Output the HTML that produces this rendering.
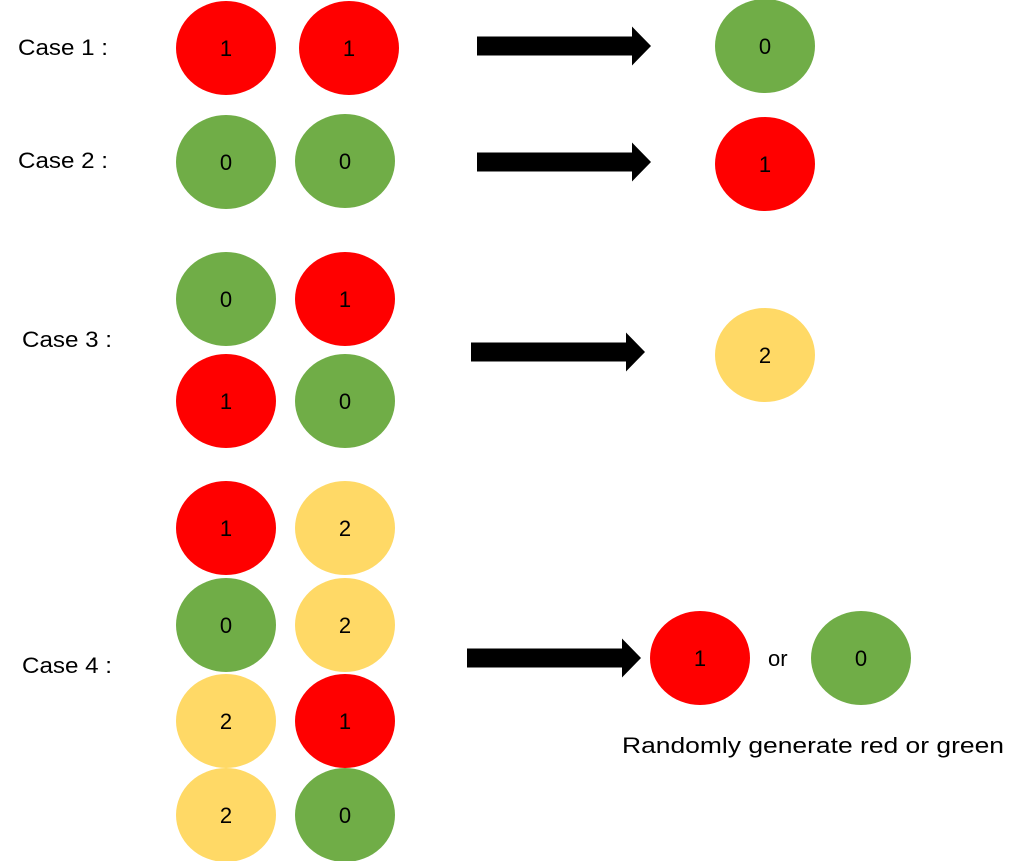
<!DOCTYPE html><html><head><style>body{margin:0;background:#fff}</style></head><body>
<svg width="1024" height="861" xmlns="http://www.w3.org/2000/svg" font-family="Liberation Sans, sans-serif">
<defs>
<g id="a"><polygon points="0,-9.5 155,-9.5 155,-19.5 174,0 155,19.5 155,9.5 0,9.5" fill="#000"/></g>
</defs>
<g font-size="22" fill="#000">
<text x="18" y="55" textLength="90" lengthAdjust="spacingAndGlyphs">Case 1 :</text>
<text x="18" y="168" textLength="90" lengthAdjust="spacingAndGlyphs">Case 2 :</text>
<text x="22" y="347" textLength="90" lengthAdjust="spacingAndGlyphs">Case 3 :</text>
<text x="22" y="673" textLength="90" lengthAdjust="spacingAndGlyphs">Case 4 :</text>
<text x="622" y="753" textLength="382" lengthAdjust="spacingAndGlyphs">Randomly generate red or green</text>
<text x="768" y="666">or</text>
</g>
<use href="#a" x="477" y="46"/>
<use href="#a" x="477" y="162"/>
<use href="#a" x="471" y="352"/>
<use href="#a" x="467" y="658"/>
<g font-size="22" text-anchor="middle">
<g fill="#FF0000"><ellipse cx="226" cy="48" rx="50" ry="47"/><ellipse cx="349" cy="48" rx="50" ry="47"/><ellipse cx="765" cy="164" rx="50" ry="47"/><ellipse cx="345" cy="299" rx="50" ry="47"/><ellipse cx="226" cy="401" rx="50" ry="47"/><ellipse cx="226" cy="528" rx="50" ry="47"/><ellipse cx="345" cy="721" rx="50" ry="47"/><ellipse cx="700" cy="658" rx="50" ry="47"/></g>
<g fill="#70AD47"><ellipse cx="765" cy="46" rx="50" ry="47"/><ellipse cx="226" cy="162" rx="50" ry="47"/><ellipse cx="345" cy="161" rx="50" ry="47"/><ellipse cx="226" cy="299" rx="50" ry="47"/><ellipse cx="345" cy="401" rx="50" ry="47"/><ellipse cx="226" cy="625" rx="50" ry="47"/><ellipse cx="345" cy="815" rx="50" ry="47"/><ellipse cx="861" cy="658" rx="50" ry="47"/></g>
<g fill="#FFD966"><ellipse cx="765" cy="355" rx="50" ry="47"/><ellipse cx="345" cy="528" rx="50" ry="47"/><ellipse cx="345" cy="625" rx="50" ry="47"/><ellipse cx="226" cy="721" rx="50" ry="47"/><ellipse cx="226" cy="815" rx="50" ry="47"/></g>
<g fill="#000">
<text x="226" y="56">1</text><text x="349" y="56">1</text><text x="765" y="54">0</text>
<text x="226" y="170">0</text><text x="345" y="169">0</text><text x="765" y="172">1</text>
<text x="226" y="307">0</text><text x="345" y="307">1</text><text x="226" y="409">1</text><text x="345" y="409">0</text><text x="765" y="363">2</text>
<text x="226" y="536">1</text><text x="345" y="536">2</text><text x="226" y="633">0</text><text x="345" y="633">2</text>
<text x="226" y="729">2</text><text x="345" y="729">1</text><text x="226" y="823">2</text><text x="345" y="823">0</text>
<text x="700" y="666">1</text><text x="861" y="666">0</text>
</g></g>
</svg></body></html>
